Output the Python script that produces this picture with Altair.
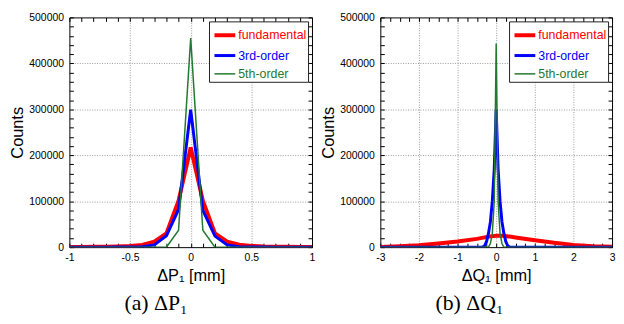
import altair as alt
import pandas as pd

series_names = ["fundamental", "3rd-order", "5th-order"]
series_colors = ["#ff0000", "#0000ff", "#23792f"]
series_widths = [4.0, 3.0, 1.5]

# Panel (a): Delta P1
p_x = [-1.0, -0.9, -0.8, -0.7, -0.6, -0.5, -0.4, -0.3, -0.2, -0.1, 0.0,
       0.1, 0.2, 0.3, 0.4, 0.5, 0.6, 0.7, 0.8, 0.9, 1.0]
p_fund = [500, 600, 800, 1000, 1500, 2500, 5000, 12000, 30000, 101000, 217000,
          101000, 30000, 12000, 5500, 2800, 1500, 1000, 700, 500, 400]
p_3rd = [100, 100, 100, 100, 200, 300, 1000, 5000, 25000, 82000, 299000,
         80000, 24000, 5000, 1000, 300, 200, 100, 100, 100, 100]
p_5th = [0, 0, 0, 0, 0, 0, 0, 0, 0, 37000, 455000,
         37000, 0, 0, 0, 0, 0, 0, 0, 0, 0]

# Panel (b): Delta Q1
q_x_fund = [-3.0, -2.5, -2.0, -1.5, -1.0, -0.5, -0.2, 0.0, 0.2, 0.5, 1.0, 1.5, 2.0, 2.5, 3.0]
q_fund = [500, 1800, 4000, 8000, 12500, 18000, 23000, 25000, 25000, 21000, 15000, 9500, 5000, 2000, 700]
q_x_3rd = [-3.0, -0.4, -0.35, -0.3, -0.25, -0.2, -0.15, -0.1, -0.05, 0.0,
           0.05, 0.1, 0.15, 0.2, 0.25, 0.3, 0.35, 0.4, 3.0]
q_3rd = [0, 0, 500, 3000, 12000, 30000, 55000, 100000, 170000, 300000,
         170000, 100000, 55000, 30000, 12000, 3000, 500, 0, 0]
q_x_5th = [-3.0, -0.2, -0.15, -0.1, -0.05, 0.0, 0.05, 0.1, 0.15, 0.2, 3.0]
q_5th = [0, 0, 8000, 30000, 100000, 443000, 100000, 30000, 8000, 0, 0]

# Tick positions (major labelled, minor unlabelled)
y_ticks = [i * 20000 for i in range(26)]
p_ticks = [round(-1 + 0.1 * i, 1) for i in range(21)]
q_ticks = [-3 + 0.25 * i for i in range(25)]

y_major = "datum.value % 100000 == 0"
p_major = "abs(datum.value * 2 - round(datum.value * 2)) < 1e-9"
q_major = "datum.value == round(datum.value)"


def frame(xs_list, ys_list):
    rows = []
    for name, xs, ys in zip(series_names, xs_list, ys_list):
        for x, y in zip(xs, ys):
            rows.append({"x": x, "count": y, "series": name})
    return pd.DataFrame(rows)


label_color_expr = ("datum.value == 'fundamental' ? '#ff0000' : "
                    "(datum.value == '3rd-order' ? '#0000ff' : '#23792f')")
symbol_width_expr = ("datum.value == 'fundamental' ? 3 : "
                     "(datum.value == '3rd-order' ? 2.2 : 1.6)")


def make_legend():
    return alt.Legend(
        title=None, orient="top-right", offset=4, fillColor="white",
        strokeColor="#222", padding=1.5, rowPadding=-8.5,
        labelFont="Liberation Sans", labelFontSize=12.5,
        labelColor={"expr": label_color_expr}, labelOffset=1,
        symbolType="stroke", symbolSize=441, symbolOffset=2,
        symbolStrokeWidth={"expr": symbol_width_expr},
        labelLimit=200,
    )


def panel(df, xdom, xticks, xmajor, xtitle, caption, width, dx):
    xmin, xmax = xdom
    x_grid_test = f"({xmajor}) && datum.value > {xmin} && datum.value < {xmax}"
    y_grid_test = f"({y_major}) && datum.value > 0 && datum.value < 500000"
    xscale = alt.Scale(domain=xdom, nice=False, zero=False)
    yscale = alt.Scale(domain=[0, 500000], nice=False)
    lines = alt.Chart(df).mark_line(clip=True).encode(
        x=alt.X("x:Q", scale=xscale,
                axis=alt.Axis(values=xticks, title=xtitle,
                              labelExpr=f"({xmajor}) ? '' + datum.value : ''",
                              labelFlush=False, labelOverlap=False,
                              offset=-4, tickSize=4, labelPadding=5, titlePadding=5,
                              gridOpacity={"condition": {"test": x_grid_test, "value": 1},
                                           "value": 0})),
        y=alt.Y("count:Q", scale=yscale,
                axis=alt.Axis(values=y_ticks, title="Counts",
                              labelExpr=f"({y_major}) ? '' + datum.value : ''",
                              labelOverlap=False,
                              offset=-4, tickSize=4, labelPadding=6, titlePadding=3.5,
                              gridOpacity={"condition": {"test": y_grid_test, "value": 1},
                                           "value": 0})),
        color=alt.Color("series:N", scale=alt.Scale(domain=series_names, range=series_colors),
                        legend=make_legend()),
        strokeWidth=alt.StrokeWidth("series:N",
                                    scale=alt.Scale(type="ordinal", domain=series_names,
                                                    range=series_widths),
                                    legend=None),
    )
    ghost = alt.Chart(df).mark_point(opacity=0).encode(
        x=alt.X("x:Q", scale=xscale,
                axis=alt.Axis(orient="top", values=xticks, labels=False, title=None,
                              offset=-4, tickSize=4, grid=False)),
        y=alt.Y("count:Q", scale=yscale,
                axis=alt.Axis(orient="right", values=y_ticks, labels=False, title=None,
                              offset=-4, tickSize=4, grid=False)),
    )
    return alt.layer(lines, ghost).resolve_axis(x="independent", y="independent").properties(
        width=width, height=232,
        title=alt.TitleParams(text=caption, orient="bottom", font="Liberation Serif",
                              fontSize=22, fontWeight="normal", color="black",
                              anchor="middle", offset=9, dx=dx),
    )


left = panel(frame([p_x, p_x, p_x], [p_fund, p_3rd, p_5th]),
             [-1, 1], p_ticks, p_major, "ΔP₁ [mm]", "(a) ΔP₁", 245, -35)
right = panel(frame([q_x_fund, q_x_3rd, q_x_5th], [q_fund, q_3rd, q_5th]),
              [-3, 3], q_ticks, q_major, "ΔQ₁ [mm]", "(b) ΔQ₁", 234, -27)

chart = alt.hconcat(left, right, spacing=3).resolve_legend(
    color="independent", strokeWidth="independent"
).resolve_scale(
    color="independent", strokeWidth="independent"
).properties(padding={"left": 0, "top": 2, "right": 0, "bottom": 0}).configure_view(
    stroke="black", strokeWidth=1
).configure_axis(
    labelFont="Liberation Sans", labelFontSize=10.5, labelColor="black",
    titleFont="Liberation Sans", titleFontSize=16.5, titleFontWeight="normal",
    titleColor="black", domain=False, ticks=True, tickColor="black", tickWidth=1,
    grid=True, gridColor="#808080", gridDash=[1, 1.5], gridWidth=0.8,
)

chart.save("out.html", embed_options={"renderer": "svg", "actions": False})
